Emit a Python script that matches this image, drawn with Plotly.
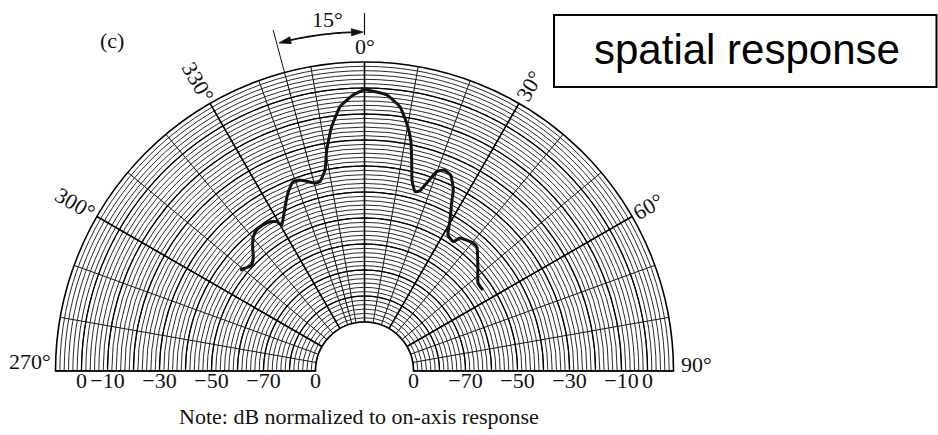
import math
import numpy as np
import plotly.graph_objects as go

# ---- measured spatial response (dB relative to on-axis), angle clockwise from on-axis ----
angle_deg = [-50.95, -49.33, -46.78, -44.21, -41.97, -39.63, -37.4, -34.81, -32.33, -30.46,
             -29.56, -28.36, -25.82, -23.26, -20.69, -18.66, -14.75, -13.23, -11.12, -9.71,
             -7.65, -5.3, -2.39, 0.0, 4.6, 7.65, 9.67, 11.31, 12.61, 13.97,
             15.73, 17.11, 19.91, 21.58, 23.74, 26.13, 27.1, 29.52, 31.55, 34.48,
             35.68, 40.29, 42.22, 47.5, 52.2, 55.64]
level_db = [-47.2, -48.2, -49.3, -47.5, -44.5, -41.8, -40.6, -40.5, -40.9, -42.2,
            -44.3, -42.8, -38.7, -34.3, -31.0, -31.3, -34.1, -34.0, -30.1, -22.6,
            -14.0, -6.8, -2.6, -0.7, -2.3, -6.3, -12.2, -18.2, -25.7, -33.2,
            -37.2, -36.3, -27.3, -25.7, -26.5, -31.3, -35.0, -42.1, -47.5, -48.5,
            -45.9, -44.3, -44.5, -49.7, -53.6, -53.7]

# radial scale labels (printed along the base line on both sides)
radial_tick_vals = [0, -10, -30, -50, -70, -90]
radial_tick_text = ["0", "\u221210", "\u221230", "\u221250", "\u221270", "0"]

# angle labels: (text, angle, label radius in px, text rotation)
angle_labels = [("0°", 0, 324, 0), ("30°", 30, 329, -60), ("60°", 60, 328, -30),
                ("330°", -30, 334, 60), ("300°", -60, 334, 30)]

R_MIN, R_MAX = -90, 10            # dB at hole edge / outer rim
FINE_STEP, MAJOR_STEP = 10 / 6, 10  # circle spacing in dB

# ---- page geometry ----
W, H = 938, 435
CX, CY, R = 364.5, 371.0, 309.0  # pixel centre and outer radius of the half disc
HOLE_PX = 49.0

def to_paper(x, y):
    return x / W, 1 - y / H

def polar_px(theta, rpx):
    t = math.radians(theta)
    return CX + rpx * math.sin(t), CY - rpx * math.cos(t)

serif = "Liberation Serif, Times New Roman, serif"
sans = "Liberation Sans, Arial, sans-serif"
LABEL_SIZE = 22

fig = go.Figure()

arc = np.linspace(-90, 90, 361)

# heavier circles every 10 dB and at the hole edge
for rv in range(R_MIN, R_MAX, MAJOR_STEP):
    fig.add_trace(go.Scatterpolar(r=[rv] * len(arc), theta=arc, mode="lines",
                                  line=dict(color="#000", width=1.3),
                                  hoverinfo="skip", showlegend=False))

# heavier radial lines every 30 deg, plus the base line and the 345 deg reference line
for th in [-90, -60, -30, 0, 30, 60, 90, -15]:
    fig.add_trace(go.Scatterpolar(r=[R_MIN, R_MAX], theta=[th, th], mode="lines",
                                  line=dict(color="#000", width=1.6 if th != -15 else 1.0),
                                  hoverinfo="skip", showlegend=False))

# response curve
fig.add_trace(go.Scatterpolar(r=level_db, theta=angle_deg, mode="lines",
                              line=dict(color="#111", width=3, shape="spline", smoothing=0.4),
                              hoverinfo="skip", showlegend=False))

# dB scale along both halves of the base line
for th in (-90, 90):
    fig.add_trace(go.Scatterpolar(r=radial_tick_vals, theta=[th] * len(radial_tick_vals),
                                  mode="text", text=radial_tick_text,
                                  textposition="bottom center", cliponaxis=False,
                                  textfont=dict(family=serif, size=LABEL_SIZE, color="#111"),
                                  hoverinfo="skip", showlegend=False))

x0, y0 = to_paper(CX - R, CY)
x1, y1 = to_paper(CX + R, CY - R)
fig.update_layout(
    width=W, height=H,
    margin=dict(l=0, r=0, t=0, b=0),
    paper_bgcolor="white",
    showlegend=False,
    polar=dict(
        domain=dict(x=[x0, x1], y=[y0, y1]),
        sector=[0, 180],
        hole=HOLE_PX / R,
        bgcolor="white",
        angularaxis=dict(rotation=90, direction="clockwise", tickmode="linear",
                         tick0=0, dtick=10, showticklabels=False, ticks="",
                         showgrid=True, gridcolor="#111", gridwidth=0.9,
                         showline=True, linecolor="#000", linewidth=1.6),
        radialaxis=dict(range=[R_MIN, R_MAX], tickmode="linear", tick0=0, dtick=FINE_STEP,
                        showticklabels=False, ticks="", showline=False,
                        showgrid=True, gridcolor="#2a2a2a", gridwidth=0.8),
    ),
)

annotations = []
for text, th, rpx, ang in angle_labels:
    px, py = polar_px(th, rpx)
    ax_, ay_ = to_paper(px, py)
    annotations.append(dict(x=ax_, y=ay_, xref="paper", yref="paper", text=text,
                            showarrow=False, textangle=ang, xanchor="center", yanchor="middle",
                            font=dict(family=serif, size=LABEL_SIZE, color="#111")))

# 270 / 90 labels at the ends of the base line
lx, ly = to_paper(CX - R - 3, CY - 10)
annotations.append(dict(x=lx, y=ly, xref="paper", yref="paper", text="270°", showarrow=False,
                        xanchor="right", yanchor="middle",
                        font=dict(family=serif, size=LABEL_SIZE, color="#111")))
rx, ry = to_paper(CX + R + 5, CY - 7)
annotations.append(dict(x=rx, y=ry, xref="paper", yref="paper", text="90°", showarrow=False,
                        xanchor="left", yanchor="middle",
                        font=dict(family=serif, size=LABEL_SIZE, color="#111")))

# panel tag, note and 15 deg marker label
for text, (px, py) in [("(c)", (112, 40)),
                       ("Note: dB normalized to on-axis response", (359, 416)),
                       ("15°", (327, 20))]:
    ax_, ay_ = to_paper(px, py)
    annotations.append(dict(x=ax_, y=ay_, xref="paper", yref="paper", text=text,
                            showarrow=False, xanchor="center", yanchor="middle",
                            font=dict(family=serif, size=LABEL_SIZE, color="#111")))

# title box
bx, by = to_paper(747, 50)
annotations.append(dict(x=bx, y=by, xref="paper", yref="paper", text="spatial response",
                        showarrow=False, xanchor="center", yanchor="middle",
                        font=dict(family=sans, size=42, color="#000")))

shapes = []
rx0, ry0 = to_paper(554, 15)
rx1, ry1 = to_paper(936.5, 87)
shapes.append(dict(type="rect", xref="paper", yref="paper", x0=rx0, y0=ry1, x1=rx1, y1=ry0,
                   line=dict(color="#000", width=2), fillcolor="rgba(0,0,0,0)"))

# 15 deg marker: extension lines above the rim and a double-headed arc
def seg(th, ra, rb, width):
    pa = to_paper(*polar_px(th, ra))
    pb = to_paper(*polar_px(th, rb))
    return dict(type="line", xref="paper", yref="paper", x0=pa[0], y0=pa[1], x1=pb[0], y1=pb[1],
                line=dict(color="#111", width=width))

shapes.append(seg(0, 336, 358, 1.2))
shapes.append(seg(-15, R, 353, 1.0))

ARC_R = 339
arc_t = np.linspace(-13.2, -1.6, 30)
pts = [to_paper(*polar_px(t, ARC_R)) for t in arc_t]
path = "M " + " L ".join(f"{p[0]:.5f},{p[1]:.5f}" for p in pts)
shapes.append(dict(type="path", xref="paper", yref="paper", path=path,
                   line=dict(color="#111", width=1.8)))

def arrow_head(tip_th, back_th):
    tip = polar_px(tip_th, ARC_R)
    b1 = polar_px(back_th, ARC_R - 3.5)
    b2 = polar_px(back_th, ARC_R + 3.5)
    p = [to_paper(*q) for q in (tip, b1, b2)]
    return dict(type="path", xref="paper", yref="paper",
                path=f"M {p[0][0]:.5f},{p[0][1]:.5f} L {p[1][0]:.5f},{p[1][1]:.5f} "
                     f"L {p[2][0]:.5f},{p[2][1]:.5f} Z",
                fillcolor="#111", line=dict(color="#111", width=0.8))

shapes.append(arrow_head(-14.6, -12.6))
shapes.append(arrow_head(-0.2, -2.2))

fig.update_layout(annotations=annotations, shapes=shapes)

fig.write_html("out.html")
